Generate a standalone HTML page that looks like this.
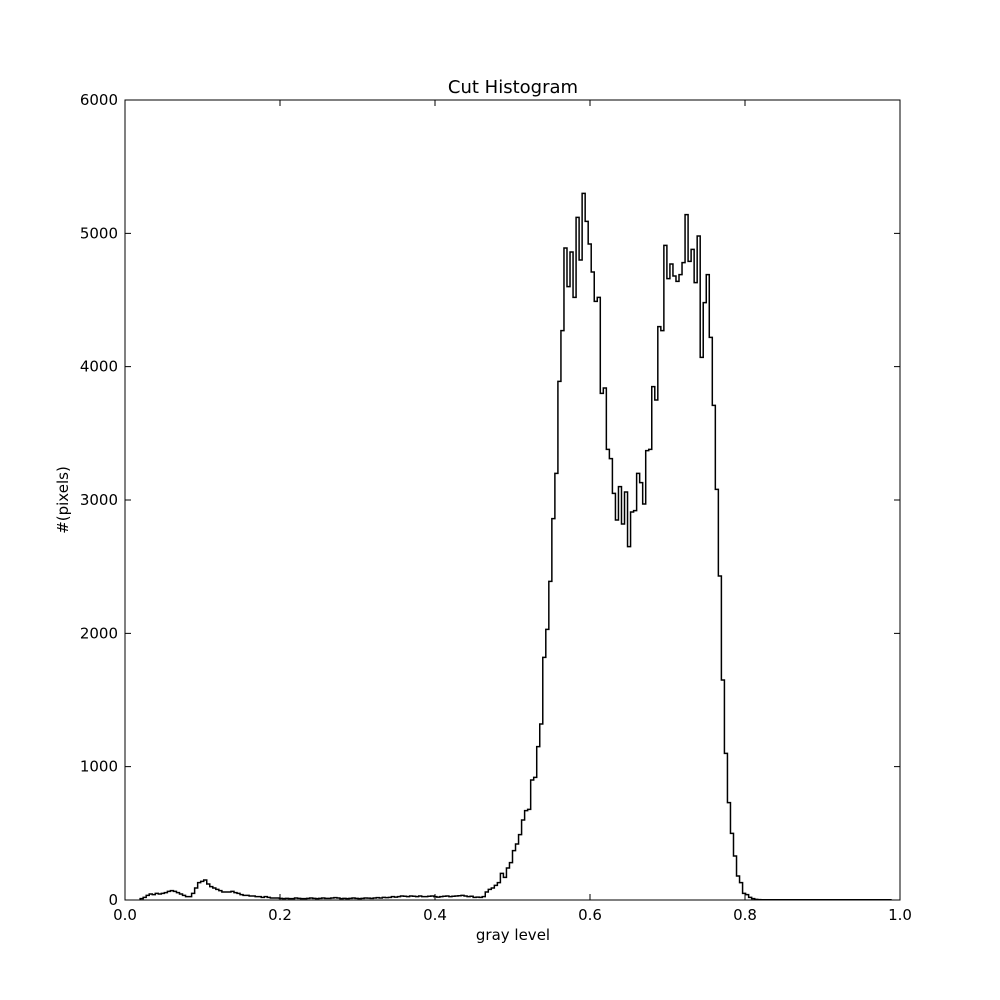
<!DOCTYPE html>
<html><head><meta charset="utf-8"><style>
body{margin:0;background:#fff;}
svg{display:block;font-family:"DejaVu Sans","Liberation Sans",sans-serif;}
</style></head><body>
<svg id="chart" width="1000" height="1000">
<rect x="0" y="0" width="1000" height="1000" fill="#fff"/>
<text x="513" y="93" font-size="18" text-anchor="middle">Cut Histogram</text>
<text x="513" y="940" font-size="15" text-anchor="middle">gray level</text>
<text x="68" y="500" font-size="15" text-anchor="middle" transform="rotate(-90 68 500)">#(pixels)</text>
<g id="ticks"></g>
<path id="hist" fill="none" stroke="#000" stroke-width="1.5"/>
<rect x="125" y="100" width="775" height="800" fill="none" stroke="#000" stroke-width="1"/>
</svg>
<script>
const xTicks=[0,0.2,0.4,0.6,0.8,1.0];
const xTickLabels=["0.0","0.2","0.4","0.6","0.8","1.0"];
const yTicks=[0,1000,2000,3000,4000,5000,6000];
const yTickLabels=["0","1000","2000","3000","4000","5000","6000"];
const nBins=256;
const startBin=5;
const lowCounts=[10,20,35,45,40,50,45,50,55,65,70,65,55,45,35,25,25,50,90,130,140,150,120,100,90,80,70,60,60,60,65,55,50,40,35,35,30,30,25,25,20,25,20,15,15,15,
12,10,12,10,10,15,12,10,10,12,15,12,10,12,15,12,12,15,18,15,10,12,10,12,15,12,10,12,15,14,12,15,18,15,20,18,20,25,22,25,30,28,25,30,28,25,30,25,25,28,30,25,22,25,28,30,25,28,30,32,35,30,25,28,20,22,20,25];
const peakCounts=[60,80,90,110,130,200,170,240,280,370,420,490,600,670,680,900,920,1150,1320,1820,2030,2390,2860,3200,3890,4270,4890,4600,4860,4520,5120,4800,5300,5090,4920,4710,4490,4520,3800,3840,3380,3310,3050,2850,3100,2820,3060,2650,2910,2920,3200,3130,2970,3370,3380,3850,3750,4300,4270,4910,4660,4770,4680,4640,4690,4780,5140,4790,4880,4630,4980,4070,4480,4690,4220,3710,3080,2430,1650,1100,730,500,330,180,130,50,40,20,10,5];
const tailCounts=[3,2,2,2,2,2,2,2,2,2,2,2,2,2,2,2,2,2,2,2,2,2,2,2,2,2,2,2,2,2,2,2,2,2,2,2,2,2,2,2,2,2,2,2];
const counts=lowCounts.concat(peakCounts,tailCounts);
const X=v=>125+v*775, Y=v=>900-v*800/6000;
const g=document.getElementById('ticks');
const NS='http://www.w3.org/2000/svg';
xTicks.forEach((t,i)=>{
 const l=document.createElementNS(NS,'path');
 l.setAttribute('d',`M${X(t)},900v-6M${X(t)},100v6`);l.setAttribute('stroke','#000');
 
 
 g.appendChild(l);
 const tx=document.createElementNS(NS,'text');
 tx.setAttribute('x',X(t));tx.setAttribute('y',920);tx.setAttribute('font-size','15');tx.setAttribute('text-anchor','middle');
 tx.textContent=xTickLabels[i];
 
 
 g.appendChild(tx);
});
yTicks.forEach((t,i)=>{
 const l=document.createElementNS(NS,'path');
 l.setAttribute('d',`M125,${Y(t)}h6M900,${Y(t)}h-6`);l.setAttribute('stroke','#000');
 
 
 g.appendChild(l);
 const tx=document.createElementNS(NS,'text');
 tx.setAttribute('x',118);tx.setAttribute('y',Y(t)+5);tx.setAttribute('font-size','15');tx.setAttribute('text-anchor','end');
 tx.textContent=yTickLabels[i];
 
 
 g.appendChild(tx);
});
let d=`M${X(startBin/nBins)},${Y(0)}`;
counts.forEach((c,i)=>{
 const b=startBin+i;
 d+=`L${X(b/nBins)},${Y(c)}L${X((b+1)/nBins)},${Y(c)}`;
});
d+=`L${X((startBin+counts.length)/nBins)},${Y(0)}`;
document.getElementById('hist').setAttribute('d',d);
</script>
</body></html>
